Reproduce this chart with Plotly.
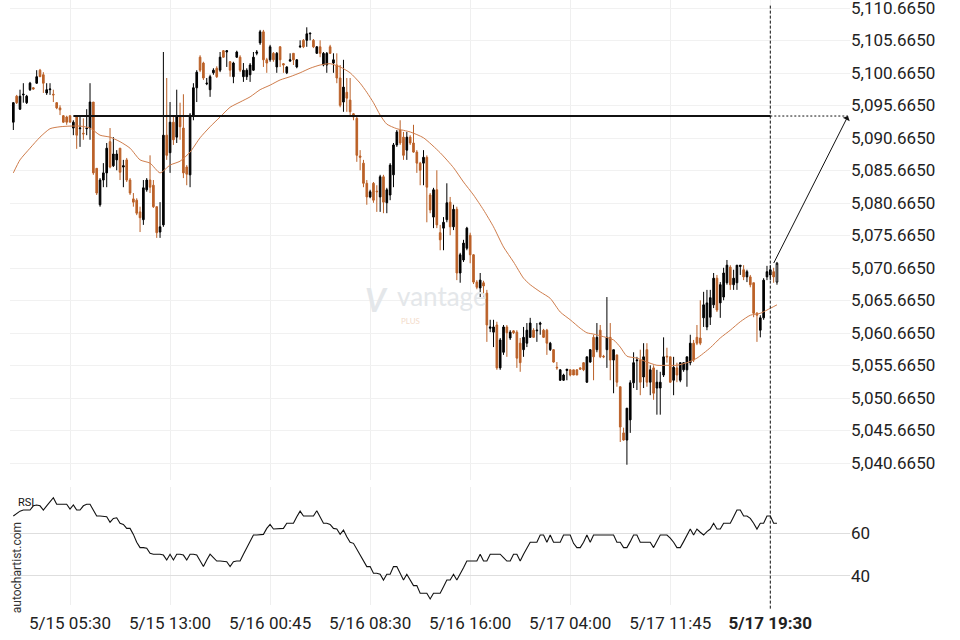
import plotly.graph_objects as go

# ---------------- data ----------------
opens = [
    5093.1, 5097.1, 5095.1, 5097.3, 5096.1, 5098.1, 5098.4, 5099.1, 5101.1, 5100.4,
    5097.6, 5098.1, 5097.4, 5096.1, 5095.3, 5094.1, 5093.9, 5094.1, 5092.2, 5093.9,
    5092.1, 5091.4, 5092.1, 5092.2, 5096.2, 5086.0, 5080.4, 5084.2, 5085.3, 5090.1,
    5086.4, 5087.3, 5089.1, 5086.2, 5087.3, 5084.2, 5081.3, 5081.1, 5079.3, 5078.1,
    5082.7, 5084.2, 5083.4, 5080.1, 5076.2, 5077.3, 5091.1, 5088.4, 5093.1, 5090.8,
    5093.9, 5092.2, 5086.2, 5085.0, 5094.2, 5098.4, 5103.1, 5102.2, 5099.0, 5098.1,
    5100.7, 5101.4, 5101.1, 5104.1, 5103.9, 5102.4, 5100.1, 5103.1, 5103.1, 5100.1,
    5100.1, 5100.4, 5101.1, 5103.7, 5105.3, 5107.0, 5102.7, 5102.7, 5103.7, 5101.6,
    5104.7, 5102.1, 5100.7, 5102.5, 5103.7, 5101.6, 5104.7, 5105.7, 5105.7, 5106.7,
    5105.7, 5103.7, 5104.7, 5101.9, 5101.9, 5104.7, 5102.2, 5101.9, 5099.9, 5096.2,
    5097.7, 5096.5, 5094.4, 5093.7, 5087.9, 5086.8, 5083.7, 5081.6, 5083.7, 5082.5,
    5081.6, 5084.7, 5080.7, 5081.9, 5085.0, 5089.6, 5091.9, 5090.8, 5088.8, 5090.8,
    5089.9, 5088.5, 5086.8, 5086.8, 5087.7, 5081.9, 5078.5, 5082.7, 5076.1, 5076.8,
    5078.1, 5080.8, 5077.0, 5079.7, 5069.9, 5071.9, 5073.7, 5075.7, 5072.7, 5068.5,
    5067.6, 5068.4, 5066.8, 5061.4, 5060.8, 5061.9, 5055.3, 5057.7, 5061.6, 5059.9,
    5061.0, 5060.8, 5059.1, 5058.1, 5059.1, 5060.0, 5061.1, 5061.0, 5062.0, 5061.1,
    5061.1, 5058.1, 5058.1, 5055.4, 5053.4, 5053.4, 5054.9, 5055.0, 5055.0, 5055.0,
    5055.3, 5056.1, 5053.1, 5056.2, 5060.0, 5058.1, 5061.1, 5057.1, 5058.1, 5060.0,
    5056.5, 5057.3, 5052.4, 5045.3, 5044.2, 5047.3, 5053.0, 5056.4, 5056.5, 5053.9,
    5058.1, 5053.1, 5055.3, 5052.2, 5052.2, 5054.2, 5057.1, 5057.0, 5053.4, 5055.3,
    5053.4, 5055.0, 5055.0, 5056.1, 5059.1, 5060.0, 5059.9, 5063.0, 5061.6, 5063.1,
    5065.0, 5069.1, 5065.3, 5066.2, 5068.4, 5070.8, 5068.1, 5068.4, 5070.9, 5070.4,
    5069.3, 5069.3, 5068.4, 5063.7, 5061.1, 5063.0, 5069.3, 5069.6, 5070.1, 5068.5,
]
highs = [
    5096.2, 5097.3, 5098.1, 5099.1, 5097.3, 5099.3, 5098.5, 5101.1, 5101.3, 5100.8,
    5099.1, 5099.1, 5098.1, 5096.2, 5095.7, 5094.2, 5094.1, 5094.1, 5093.4, 5093.9,
    5093.9, 5093.7, 5095.1, 5099.1, 5096.2, 5086.0, 5084.5, 5086.8, 5089.9, 5092.2,
    5090.8, 5088.8, 5089.1, 5087.3, 5087.6, 5084.5, 5082.2, 5081.4, 5080.1, 5084.2,
    5084.5, 5088.0, 5084.2, 5080.1, 5080.8, 5103.9, 5099.9, 5096.2, 5093.9, 5098.1,
    5096.1, 5097.4, 5086.5, 5094.5, 5099.1, 5101.1, 5103.4, 5102.4, 5099.9, 5100.4,
    5101.4, 5101.7, 5103.9, 5104.2, 5104.2, 5102.5, 5102.4, 5104.1, 5103.4, 5102.2,
    5101.4, 5102.2, 5103.9, 5104.2, 5107.3, 5107.3, 5103.0, 5105.0, 5103.9, 5103.9,
    5104.8, 5102.2, 5101.7, 5103.7, 5103.7, 5102.8, 5105.7, 5105.9, 5107.7, 5106.8,
    5105.9, 5104.8, 5105.7, 5103.9, 5103.9, 5105.0, 5103.7, 5103.7, 5101.9, 5102.7,
    5099.9, 5099.9, 5094.5, 5093.9, 5088.8, 5087.3, 5084.2, 5082.7, 5083.9, 5083.4,
    5085.0, 5085.0, 5083.0, 5086.8, 5089.9, 5091.9, 5093.4, 5091.6, 5091.6, 5091.1,
    5092.7, 5088.8, 5087.0, 5088.8, 5088.0, 5082.2, 5083.0, 5085.7, 5077.3, 5078.5,
    5083.7, 5081.6, 5080.4, 5080.1, 5073.0, 5075.0, 5077.0, 5076.1, 5072.8, 5068.8,
    5069.9, 5068.7, 5067.3, 5062.7, 5062.7, 5062.4, 5059.9, 5061.9, 5061.9, 5061.1,
    5061.1, 5061.1, 5059.9, 5061.6, 5062.2, 5063.0, 5061.4, 5062.2, 5062.4, 5061.3,
    5061.3, 5059.3, 5058.2, 5056.2, 5055.1, 5054.4, 5055.1, 5055.1, 5055.0, 5055.1,
    5055.4, 5056.2, 5057.0, 5058.2, 5060.4, 5062.2, 5061.9, 5057.3, 5066.2, 5062.2,
    5058.1, 5057.3, 5052.4, 5046.1, 5049.1, 5053.4, 5057.7, 5057.0, 5058.1, 5059.1,
    5059.1, 5055.7, 5055.7, 5055.0, 5054.7, 5060.0, 5058.4, 5057.0, 5057.0, 5056.1,
    5056.1, 5056.2, 5057.0, 5060.4, 5059.6, 5061.9, 5065.7, 5067.0, 5067.3, 5067.3,
    5069.9, 5069.6, 5068.5, 5070.7, 5071.9, 5071.1, 5070.4, 5071.1, 5071.1, 5071.1,
    5070.4, 5069.6, 5068.4, 5063.9, 5063.4, 5069.1, 5071.0, 5071.1, 5070.7, 5071.6,
]
lows = [
    5091.9, 5095.9, 5095.0, 5096.1, 5095.9, 5097.9, 5098.1, 5099.0, 5100.1, 5097.6,
    5097.3, 5097.3, 5096.2, 5095.1, 5094.2, 5093.0, 5092.7, 5093.1, 5091.1, 5089.0,
    5089.3, 5090.4, 5091.1, 5090.4, 5085.0, 5081.9, 5080.1, 5083.1, 5083.1, 5086.0,
    5086.2, 5085.7, 5084.2, 5083.1, 5083.9, 5081.9, 5080.1, 5078.8, 5076.2, 5077.3,
    5082.4, 5082.2, 5079.9, 5075.3, 5075.3, 5077.0, 5087.3, 5085.3, 5089.6, 5089.9,
    5090.4, 5084.5, 5083.4, 5083.1, 5093.4, 5096.2, 5100.8, 5099.6, 5098.8, 5097.0,
    5100.4, 5099.9, 5100.8, 5103.0, 5101.6, 5100.1, 5099.1, 5103.0, 5100.8, 5099.3,
    5099.6, 5099.3, 5101.0, 5103.4, 5105.0, 5101.6, 5100.7, 5102.4, 5102.4, 5100.7,
    5101.6, 5100.7, 5100.5, 5102.4, 5101.9, 5101.4, 5104.5, 5104.5, 5104.7, 5105.7,
    5104.5, 5103.6, 5103.1, 5101.7, 5100.7, 5103.6, 5100.7, 5099.1, 5095.4, 5094.7,
    5094.7, 5094.2, 5093.4, 5087.0, 5085.7, 5083.1, 5080.4, 5081.4, 5080.7, 5079.3,
    5079.3, 5079.1, 5079.1, 5081.1, 5083.1, 5089.3, 5089.6, 5087.3, 5087.3, 5089.6,
    5088.4, 5085.3, 5083.4, 5083.4, 5077.7, 5079.1, 5076.8, 5076.8, 5073.4, 5073.4,
    5077.7, 5075.7, 5076.5, 5068.8, 5068.4, 5071.6, 5073.4, 5071.4, 5068.2, 5067.4,
    5066.2, 5066.2, 5059.3, 5060.8, 5058.5, 5055.0, 5055.0, 5057.3, 5057.0, 5059.6,
    5060.5, 5055.3, 5054.7, 5057.0, 5058.5, 5059.9, 5059.9, 5059.3, 5060.4, 5059.9,
    5057.3, 5057.9, 5056.1, 5055.0, 5053.3, 5053.3, 5053.4, 5054.0, 5054.2, 5054.2,
    5055.0, 5054.8, 5053.0, 5056.1, 5053.4, 5057.7, 5056.8, 5056.8, 5055.3, 5053.4,
    5051.4, 5052.4, 5043.9, 5044.1, 5040.4, 5045.3, 5052.2, 5051.9, 5051.1, 5052.2,
    5052.4, 5051.1, 5050.4, 5048.1, 5048.1, 5053.9, 5056.1, 5053.0, 5051.1, 5053.1,
    5053.1, 5054.7, 5052.4, 5055.7, 5056.2, 5058.8, 5058.8, 5061.6, 5061.1, 5061.9,
    5064.5, 5063.9, 5063.0, 5065.7, 5068.1, 5067.3, 5067.3, 5067.3, 5069.6, 5068.8,
    5068.5, 5067.7, 5063.1, 5059.3, 5060.0, 5062.7, 5068.8, 5068.8, 5068.4, 5068.1,
]
closes = [
    5096.1, 5096.1, 5097.1, 5097.4, 5097.1, 5099.1, 5098.2, 5100.1, 5100.1, 5099.1,
    5098.1, 5098.2, 5097.3, 5095.3, 5095.0, 5093.1, 5093.1, 5093.1, 5093.1, 5091.1,
    5092.2, 5091.3, 5092.2, 5096.2, 5085.3, 5082.2, 5084.2, 5085.3, 5089.1, 5086.2,
    5088.2, 5088.2, 5085.4, 5086.4, 5084.2, 5082.2, 5080.8, 5079.1, 5078.4, 5083.0,
    5084.2, 5083.1, 5080.1, 5076.1, 5077.0, 5091.1, 5088.0, 5093.1, 5090.4, 5093.9,
    5092.4, 5085.3, 5085.1, 5094.2, 5098.4, 5100.8, 5101.1, 5099.9, 5099.1, 5100.1,
    5101.1, 5100.1, 5103.1, 5103.1, 5104.1, 5101.1, 5102.2, 5103.9, 5101.1, 5101.1,
    5101.1, 5101.9, 5103.1, 5103.9, 5107.0, 5102.7, 5102.2, 5104.7, 5102.7, 5103.7,
    5102.7, 5101.9, 5101.6, 5102.7, 5102.7, 5102.7, 5104.8, 5104.7, 5106.7, 5106.8,
    5104.7, 5104.7, 5103.7, 5103.7, 5103.7, 5103.7, 5102.7, 5099.9, 5095.7, 5098.5,
    5096.8, 5094.7, 5093.9, 5088.0, 5087.7, 5083.7, 5081.6, 5082.4, 5081.1, 5082.4,
    5084.7, 5080.8, 5082.7, 5086.5, 5089.6, 5091.6, 5089.9, 5088.0, 5090.8, 5089.9,
    5088.5, 5086.8, 5085.7, 5087.7, 5083.1, 5079.6, 5082.7, 5077.3, 5075.0, 5077.7,
    5080.7, 5077.0, 5079.7, 5069.9, 5072.7, 5074.5, 5076.8, 5072.7, 5068.5, 5067.7,
    5068.8, 5067.9, 5061.9, 5061.6, 5061.6, 5055.3, 5059.6, 5061.6, 5060.7, 5060.8,
    5060.7, 5056.8, 5056.1, 5060.0, 5061.1, 5062.2, 5060.0, 5061.1, 5062.2, 5060.0,
    5059.1, 5059.1, 5056.2, 5055.3, 5055.0, 5054.2, 5055.1, 5054.2, 5054.2, 5054.2,
    5055.1, 5055.0, 5057.0, 5058.1, 5057.0, 5060.0, 5057.0, 5057.0, 5060.0, 5056.5,
    5058.1, 5053.1, 5046.2, 5044.2, 5049.1, 5053.0, 5056.1, 5056.5, 5053.1, 5057.0,
    5053.1, 5055.0, 5051.4, 5053.1, 5053.1, 5057.0, 5057.0, 5053.1, 5055.4, 5054.2,
    5056.1, 5056.1, 5057.0, 5059.1, 5056.5, 5059.1, 5059.1, 5065.0, 5065.3, 5066.1,
    5069.1, 5064.2, 5068.1, 5069.9, 5071.1, 5068.1, 5069.1, 5071.1, 5071.1, 5069.3,
    5070.1, 5068.1, 5063.7, 5063.4, 5063.0, 5068.8, 5070.1, 5070.4, 5069.3, 5071.4,
]

# moving average (candle index, value)
ma_idx = [0, 2, 5, 8, 11, 14, 17, 20, 23, 26, 29, 32, 35, 38, 41, 44, 47, 50, 53, 56,
          59, 62, 65, 68, 71, 74, 77, 80, 83, 86, 89, 92, 95, 98, 101, 104, 106, 108, 110, 112,
          115, 119, 123, 128, 132, 135, 138, 141, 144, 147, 150, 153, 155, 158, 161, 164, 167, 170, 172, 174,
          177, 180, 182, 184, 187, 190, 193, 196, 199, 202, 205, 209, 212, 215, 218, 221, 224, 226, 229]
ma_val = [5085.3, 5087.3, 5089.1, 5090.8, 5092.1, 5092.4, 5092.5, 5092.5, 5092.2, 5091.1,
          5090.8, 5090.1, 5089.1, 5087.3, 5086.8, 5085.3, 5086.5, 5087.1, 5088.5, 5090.7,
          5092.4, 5093.9, 5095.4, 5096.2, 5097.0, 5098.1, 5098.8, 5099.6, 5100.1, 5100.7,
          5101.4, 5101.9, 5102.1, 5101.6, 5100.7, 5099.1, 5097.7, 5096.1, 5094.2, 5092.8,
          5092.1, 5091.6, 5090.7, 5088.4, 5086.1, 5083.9, 5081.9, 5079.6, 5077.0, 5073.9,
          5071.6, 5069.1, 5068.1, 5067.0, 5066.0, 5063.9, 5062.7, 5061.4, 5060.7, 5060.5,
          5060.1, 5059.6, 5058.5, 5057.1, 5056.8, 5056.2, 5055.7, 5055.7, 5055.7, 5056.1,
          5056.8, 5058.4, 5059.9, 5061.1, 5062.4, 5063.4, 5063.7, 5064.2, 5065.0]

rsi = [
    68.1, 69.4, 70.4, 70.9, 70.9, 70.9, 72.9, 73.3, 72.9, 70.9,
    72.9, 74.8, 76.7, 73.6, 73.6, 73.6, 73.6, 71.4, 73.3, 70.9,
    70.9, 72.9, 73.6, 73.6, 70.9, 68.1, 68.1, 68.1, 67.8, 65.2,
    67.0, 67.3, 64.7, 64.2, 62.3, 62.3, 59.5, 55.8, 53.3, 53.3,
    53.0, 50.6, 50.2, 50.2, 50.2, 49.8, 47.5, 50.2, 47.5, 50.2,
    50.2, 49.8, 47.5, 50.2, 50.2, 49.8, 47.0, 44.4, 47.5, 50.2,
    48.6, 47.0, 47.0, 47.0, 46.7, 44.4, 46.7, 47.0, 47.0, 50.2,
    53.0, 56.1, 59.2, 59.2, 59.2, 59.5, 62.3, 64.2, 62.0, 62.0,
    62.0, 62.3, 64.7, 64.7, 64.7, 67.8, 70.4, 68.1, 68.1, 68.1,
    68.1, 70.6, 67.3, 64.7, 64.7, 64.2, 62.3, 62.0, 59.5, 61.5,
    58.4, 55.8, 55.3, 52.6, 49.8, 47.0, 44.4, 44.4, 41.3, 41.3,
    40.8, 38.1, 40.8, 40.8, 44.4, 44.4, 41.3, 38.1, 40.8, 38.1,
    35.5, 35.5, 31.9, 31.9, 31.9, 29.2, 31.9, 31.9, 31.9, 35.0,
    38.1, 38.1, 40.8, 38.1, 40.8, 43.9, 47.0, 47.0, 47.0, 47.0,
    50.2, 47.0, 47.0, 50.2, 50.2, 50.2, 50.2, 48.6, 47.0, 47.0,
    50.2, 50.2, 47.0, 50.2, 53.0, 55.8, 55.8, 55.8, 59.2, 59.2,
    55.8, 59.2, 55.8, 55.8, 55.8, 59.2, 59.2, 59.2, 55.3, 53.3,
    53.3, 55.8, 59.2, 55.8, 59.2, 59.2, 59.2, 59.2, 59.2, 59.2,
    59.2, 55.8, 55.8, 53.3, 53.3, 56.1, 59.2, 59.2, 55.8, 55.8,
    55.8, 55.8, 53.3, 56.1, 59.2, 59.2, 59.2, 57.7, 55.8, 53.3,
    53.3, 56.1, 59.2, 62.0, 59.2, 62.0, 60.5, 59.2, 60.8, 62.0,
    64.7, 62.0, 62.0, 64.7, 64.7, 64.7, 67.8, 70.9, 70.9, 68.1,
    68.1, 67.0, 64.7, 62.0, 64.7, 64.7, 68.1, 68.1, 64.7, 64.7,
]

tick_idx = [17, 47, 77, 107, 137, 167, 197, 227]
tick_labels = ["5/15 05:30", "5/15 13:00", "5/16 00:45", "5/16 08:30",
               "5/16 16:00", "5/17 04:00", "5/17 11:45", "<b>5/17 19:30</b>"]
price_ticks = [5040.665, 5045.665, 5050.665, 5055.665, 5060.665, 5065.665, 5070.665,
               5075.665, 5080.665, 5085.665, 5090.665, 5095.665, 5100.665, 5105.665, 5110.665]
rsi_ticks = [40, 60]
level = 5094.05          # horizontal resistance level
target_idx = 250.3       # projection end (candle index)
now_idx = 227            # current time marker

# ---------------- figure ----------------
ORANGE = "#bb6128"
n = len(closes)
idx = list(range(n))

fig = go.Figure()
fig.add_trace(go.Candlestick(
    x=idx[:-1], open=opens[:-1], high=highs[:-1], low=lows[:-1], close=closes[:-1],
    increasing=dict(line=dict(color="#000000", width=1), fillcolor="#000000"),
    decreasing=dict(line=dict(color=ORANGE, width=1), fillcolor=ORANGE),
    whiskerwidth=0, xaxis="x", yaxis="y", showlegend=False, hoverinfo="skip"))
fig.add_trace(go.Candlestick(
    x=idx[-1:], open=opens[-1:], high=highs[-1:], low=lows[-1:], close=closes[-1:],
    increasing=dict(line=dict(color="#000000", width=1), fillcolor="#ffffff"),
    decreasing=dict(line=dict(color=ORANGE, width=1), fillcolor=ORANGE),
    whiskerwidth=0, xaxis="x", yaxis="y", showlegend=False, hoverinfo="skip"))
fig.add_trace(go.Scatter(x=ma_idx, y=ma_val, mode="lines",
                         line=dict(color="#cf7d4c", width=1, shape="spline", smoothing=0.6),
                         xaxis="x", yaxis="y", showlegend=False, hoverinfo="skip"))
fig.add_trace(go.Scatter(x=idx, y=rsi, mode="lines",
                         line=dict(color="#111111", width=1.1),
                         xaxis="x2", yaxis="y2", showlegend=False, hoverinfo="skip"))

xr = [-1.0, 250.9]
grid = "#efefef"
fig.update_layout(
    width=960, height=640,
    margin=dict(l=10, r=110, t=0, b=35, autoexpand=False),
    paper_bgcolor="#ffffff", plot_bgcolor="#ffffff",
    font=dict(family="Roboto, sans-serif", size=17, color="#222222"),
    xaxis=dict(domain=[0, 1], anchor="y", range=xr, showticklabels=False, automargin=False,
               tickvals=tick_idx, showgrid=True, gridcolor=grid, zeroline=False,
               rangeslider=dict(visible=False), showline=False, ticks=""),
    yaxis=dict(domain=[0.2066, 1], anchor="x", side="right", range=[5038.05, 5111.9],
               automargin=False, ticklabeloverflow="allow",
               tickvals=price_ticks, tickformat=",.4f", showgrid=True, gridcolor="#f1f1f1",
               zeroline=False, ticks="", showline=False),
    xaxis2=dict(domain=[0, 1], anchor="y2", range=xr, matches="x", automargin=False,
                tickvals=tick_idx, ticktext=tick_labels, showgrid=True, gridcolor=grid,
                zeroline=False, ticks="outside", ticklen=3, tickcolor="rgba(0,0,0,0)",
                showline=False, ticklabeloverflow="allow",
                tickfont=dict(size=17, color="#222222")),
    yaxis2=dict(domain=[0, 0.195], anchor="x2", side="right", range=[26.4, 81.7],
                automargin=False,
                tickvals=rsi_ticks, showgrid=True, gridcolor="#dedede", zeroline=False,
                ticks="", showline=False),
)

shapes = [
    dict(type="line", xref="x", yref="y", x0=18, x1=now_idx, y0=level, y1=level,
         line=dict(color="#111111", width=2.2)),
    dict(type="line", xref="x", yref="y", x0=now_idx, x1=target_idx, y0=level, y1=level,
         line=dict(color="#111111", width=1, dash="2px,2px")),
    dict(type="line", xref="x", yref="paper", x0=now_idx, x1=now_idx, y0=-0.006, y1=0.992,
         line=dict(color="#111111", width=1, dash="3px,2px")),
]
fig.update_layout(shapes=shapes)

annotations = [
    dict(x=target_idx, y=level, ax=now_idx + 0.8, ay=closes[-1] - 0.2, xref="x", yref="y",
         axref="x", ayref="y", showarrow=True, arrowhead=1, arrowsize=1.3, arrowwidth=1,
         arrowcolor="#111111", text=""),
    dict(x=0.019, y=0.1686, xref="paper", yref="paper", text="RSI", showarrow=False,
         xanchor="center", yanchor="middle", font=dict(size=11, color="#111111")),
    dict(x=0.0085, y=0.061, xref="paper", yref="paper", text="autochartist.com",
         xanchor="center", yanchor="middle",
         textangle=-90, showarrow=False, font=dict(size=12, color="#333333")),
    dict(x=0.514, y=0.511, xref="paper", yref="paper", text="vantage", showarrow=False,
         xanchor="center", yanchor="middle",
         font=dict(size=26, color="#e4e7ea", family="Lato, sans-serif")),
    dict(x=0.477, y=0.470, xref="paper", yref="paper", text="PLUS", showarrow=False,
         xanchor="center", yanchor="middle",
         font=dict(size=8, color="#f3dccb", family="Lato, sans-serif")),
    dict(x=0.436, y=0.505, xref="paper", yref="paper", text="<i><b>V</b></i>", showarrow=False,
         xanchor="center", yanchor="middle",
         font=dict(size=32, color="#e4e7ea", family="Lato, sans-serif")),
]
fig.update_layout(annotations=annotations)

fig.write_html("out.html", config={"displayModeBar": False},
               post_script="document.body.style.margin='0';document.body.style.padding='0';")
